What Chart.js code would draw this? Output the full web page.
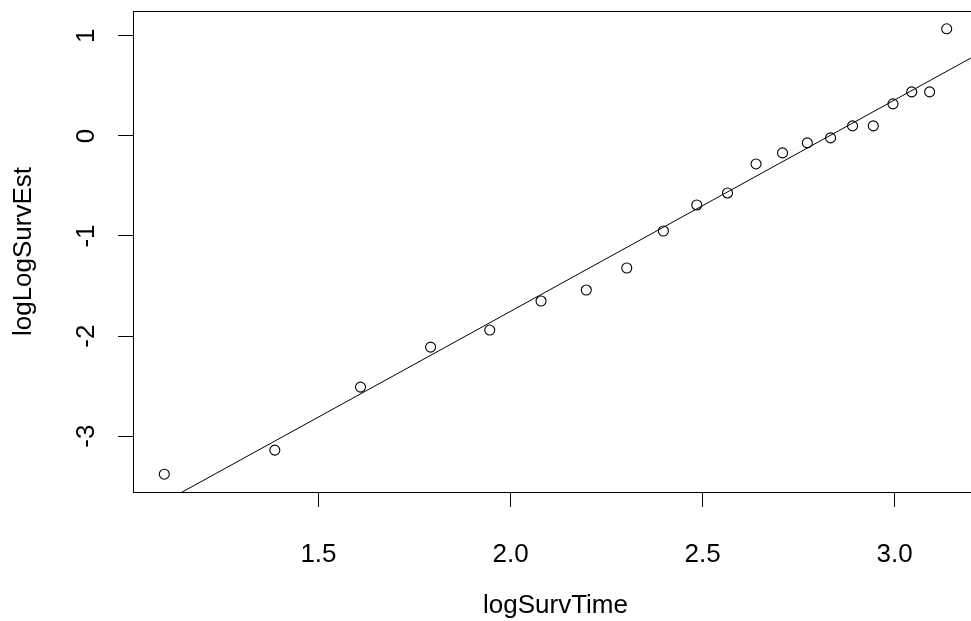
<!DOCTYPE html>
<html>
<head>
<meta charset="utf-8">
<script src="https://cdn.jsdelivr.net/npm/chart.js@4/dist/chart.umd.min.js"></script>
<style>
  html, body { margin: 0; padding: 0; background: #fff; overflow: hidden; }
  #wrap { width: 990px; height: 621px; }
  canvas { display: block; }
</style>
</head>
<body>
<div id="wrap"><canvas id="plot" width="990" height="621"></canvas></div>
<script>
// Datos
const logSurvTime = [1.0986, 1.3863, 1.6094, 1.7918, 1.9459, 2.0794, 2.1972, 2.3026, 2.3979, 2.4849,
  2.5649, 2.6391, 2.7081, 2.7726, 2.8332, 2.8904, 2.9444, 2.9957, 3.0445, 3.0910, 3.1355];
const logLogSurvEst = [-3.38, -3.14, -2.51, -2.11, -1.94, -1.65, -1.54, -1.32, -0.95, -0.69,
  -0.57, -0.28, -0.17, -0.07, -0.02, 0.10, 0.10, 0.32, 0.44, 0.44, 1.07];

// Recta ajustada (abline)
const fitIntercept = -5.977;
const fitSlope = 2.112;
const fitX = [0.9, 3.4];

// Ejes
const xTicks = [1.5, 2.0, 2.5, 3.0];
const yTicks = [-3, -2, -1, 0, 1];
const xRange = [1.0171, 3.2170];
const yRange = [-3.558, 1.248];

const FONT = '"Liberation Sans", Arial, sans-serif';
const INK = '#000';

const points = logSurvTime.map((x, i) => ({ x, y: logLogSurvEst[i] }));
const fitLine = fitX.map(x => ({ x, y: fitIntercept + fitSlope * x }));

// Marco completo + etiquetas Y rotadas como en R
const rFrame = {
  id: 'rFrame',
  afterDraw(chart) {
    const { ctx, chartArea: a, scales } = chart;
    ctx.save();
    ctx.strokeStyle = INK;
    ctx.lineWidth = 1;
    ctx.strokeRect(Math.round(a.left) + 0.5, Math.round(a.top) + 0.5,
      Math.round(a.right - a.left), Math.round(a.bottom - a.top));

    ctx.fillStyle = INK;
    ctx.font = '26px ' + FONT;
    ctx.textAlign = 'center';
    ctx.textBaseline = 'middle';
    scales.y.ticks.forEach(t => {
      const py = scales.y.getPixelForValue(t.value);
      ctx.save();
      ctx.translate(87, py);
      ctx.rotate(-Math.PI / 2);
      ctx.fillText(String(t.value), 0, 0);
      ctx.restore();
    });
    ctx.restore();
  }
};

new Chart(document.getElementById('plot'), {
  type: 'scatter',
  data: {
    datasets: [
      {
        type: 'line',
        data: fitLine,
        borderColor: INK,
        borderWidth: 1,
        pointRadius: 0,
        fill: false,
        order: 0
      },
      {
        data: points,
        pointStyle: 'circle',
        pointRadius: 5,
        pointBorderWidth: 1.1,
        pointBorderColor: INK,
        pointBackgroundColor: 'rgba(0,0,0,0)',
        order: 1
      }
    ]
  },
  options: {
    responsive: false,
    animation: false,
    events: [],
    layout: { padding: { left: 0, top: 11, right: 12, bottom: 0 } },
    plugins: { legend: { display: false }, tooltip: { enabled: false } },
    scales: {
      x: {
        type: 'linear',
        min: xRange[0],
        max: xRange[1],
        afterBuildTicks: s => { s.ticks = xTicks.map(v => ({ value: v })); },
        afterFit: s => { s.height = 129; },
        border: { display: false },
        grid: { drawOnChartArea: false, drawTicks: true, tickLength: 15, color: INK, lineWidth: 1 },
        ticks: {
          autoSkip: false,
          maxRotation: 0,
          padding: 32,
          color: INK,
          font: { family: FONT, size: 26 },
          callback: v => Number(v).toFixed(1)
        },
        title: {
          display: true,
          text: 'logSurvTime',
          color: INK,
          font: { family: FONT, size: 26 },
          padding: { top: 0, bottom: 0 }
        }
      },
      y: {
        type: 'linear',
        min: yRange[0],
        max: yRange[1],
        afterBuildTicks: s => { s.ticks = yTicks.map(v => ({ value: v })); },
        afterFit: s => { s.width = 133; },
        border: { display: false },
        grid: { drawOnChartArea: false, drawTicks: true, tickLength: 15, color: INK, lineWidth: 1 },
        ticks: { display: false },
        title: {
          display: true,
          text: 'logLogSurvEst',
          color: INK,
          font: { family: FONT, size: 26 },
          padding: { top: 8, bottom: 0 }
        }
      }
    }
  },
  plugins: [rFrame]
});
</script>
</body>
</html>
